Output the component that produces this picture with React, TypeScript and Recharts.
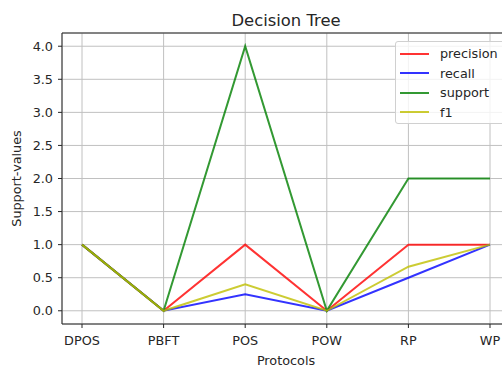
import { LineChart, Line, XAxis, YAxis, CartesianGrid, ReferenceLine } from 'recharts';

const protocols = ['DPOS', 'PBFT', 'POS', 'POW', 'RP', 'WP'];
const precision = [1, 0, 1, 0, 1, 1];
const recall = [1, 0, 0.25, 0, 0.5, 1];
const support = [1, 0, 4, 0, 2, 2];
const f1 = [1, 0, 0.4, 0, 0.667, 1];
const yTicks = [0, 0.5, 1, 1.5, 2, 2.5, 3, 3.5, 4];

const series = [
  { key: 'precision', color: '#ff0000' },
  { key: 'recall', color: '#0000ff' },
  { key: 'support', color: '#008000' },
  { key: 'f1', color: '#bfbf00' },
];

const data = protocols.map((name, i) => ({
  name,
  precision: precision[i],
  recall: recall[i],
  support: support[i],
  f1: f1[i],
}));

const font = '"DejaVu Sans", sans-serif';
const tickStyle = { fill: '#262626', fontSize: 12.8, fontFamily: font };

function LegendBox() {
  return (
    <div
      style={{
        position: 'absolute',
        left: 395,
        top: 41,
        width: 120,
        height: 83,
        boxSizing: 'border-box',
        background: 'rgba(255,255,255,0.8)',
        border: '1px solid #d0d0d0',
        borderRadius: 3,
        fontFamily: font,
        fontSize: 12.8,
        color: '#262626',
        paddingTop: 2,
      }}
    >
      {series.map((s) => (
        <div key={s.key} style={{ display: 'flex', alignItems: 'center', height: 19.5 }}>
          <span
            style={{
              display: 'inline-block',
              flexShrink: 0,
              marginLeft: 4,
              width: 29,
              height: 2,
              background: s.color,
              opacity: 0.8,
            }}
          />
          <span style={{ marginLeft: 11, whiteSpace: 'nowrap' }}>{s.key}</span>
        </div>
      ))}
    </div>
  );
}

export default function App() {
  return (
    <div
      style={{
        position: 'fixed',
        left: 0,
        top: 0,
        width: 502,
        height: 367,
        overflow: 'hidden',
        background: '#fff',
      }}
    >
      <div
        style={{
          position: 'absolute',
          left: 62,
          width: 448,
          top: 11,
          textAlign: 'center',
          fontFamily: font,
          fontSize: 16.4,
          color: '#262626',
        }}
      >
        Decision Tree
      </div>
      <LineChart
        width={560}
        height={367}
        data={data}
        margin={{ top: 33, right: 50, bottom: 0, left: 0 }}
      >
        <CartesianGrid stroke="#c0c0c0" strokeWidth={1} />
        <XAxis
          dataKey="name"
          type="category"
          padding={{ left: 20, right: 20 }}
          height={43}
          tick={tickStyle}
          tickSize={4}
          tickMargin={8}
          tickLine={{ stroke: '#262626' }}
          axisLine={{ stroke: '#262626' }}
          interval={0}
          label={{ value: 'Protocols', position: 'insideBottom', offset: 2, style: tickStyle }}
        />
        <YAxis
          type="number"
          domain={[-0.2, 4.2]}
          ticks={yTicks}
          allowDataOverflow
          width={62}
          tick={tickStyle}
          tickSize={4}
          tickMargin={5}
          tickLine={{ stroke: '#262626' }}
          axisLine={{ stroke: '#262626' }}
          tickFormatter={(v: number) => v.toFixed(1)}
          label={{
            value: 'Support-values',
            angle: -90,
            position: 'insideLeft',
            offset: 16,
            style: { ...tickStyle, textAnchor: 'middle' },
          }}
        />
        <ReferenceLine y={4.2} stroke="#262626" strokeWidth={1} />
        {series.map((s) => (
          <Line
            key={s.key}
            dataKey={s.key}
            stroke={s.color}
            strokeOpacity={0.8}
            strokeWidth={2}
            dot={false}
            isAnimationActive={false}
          />
        ))}
      </LineChart>
      <LegendBox />
    </div>
  );
}
